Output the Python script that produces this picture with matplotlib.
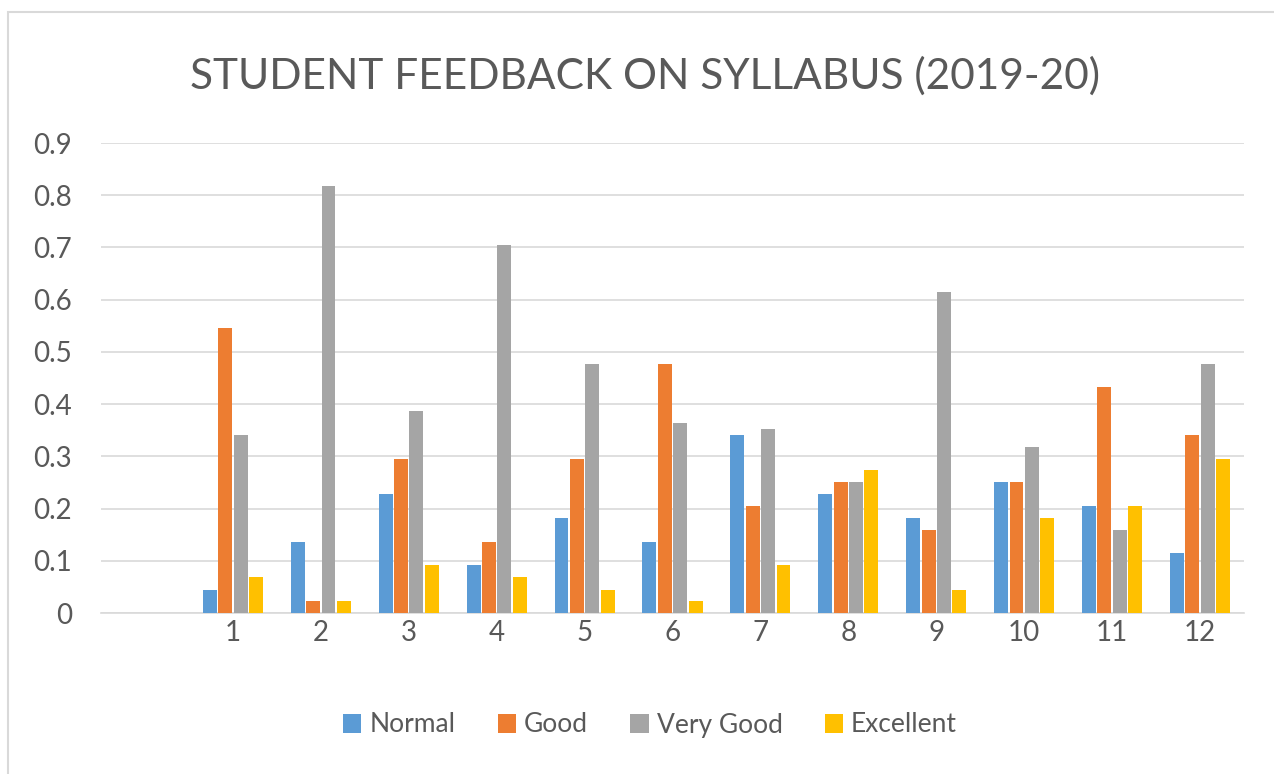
import matplotlib
matplotlib.use("Agg")
import matplotlib.pyplot as plt
import numpy as np
from matplotlib.patches import Rectangle

categories = ["", "1", "2", "3", "4", "5", "6", "7", "8", "9", "10", "11", "12"]
normal    = [None, 0.045, 0.136, 0.227, 0.091, 0.182, 0.136, 0.341, 0.227, 0.182, 0.250, 0.205, 0.114]
good      = [None, 0.545, 0.023, 0.295, 0.136, 0.295, 0.477, 0.205, 0.250, 0.159, 0.250, 0.432, 0.341]
very_good = [None, 0.341, 0.818, 0.386, 0.705, 0.477, 0.364, 0.352, 0.250, 0.614, 0.318, 0.159, 0.477]
excellent = [None, 0.068, 0.023, 0.091, 0.068, 0.045, 0.023, 0.091, 0.273, 0.045, 0.182, 0.205, 0.295]
series_names = ["Normal", "Good", "Very Good", "Excellent"]
colors = ["#5B9BD5", "#ED7D31", "#A5A5A5", "#FFC000"]
yticks = [0, 0.1, 0.2, 0.3, 0.4, 0.5, 0.6, 0.7, 0.8, 0.9]

plt.rcParams['font.family'] = ['Lato', 'DejaVu Sans']
txt = "#595959"

fig = plt.figure(figsize=(12.74, 7.74), dpi=100)
fig.patches.append(Rectangle((8/1274, -0.1), 1.2, (774-12)/774 + 0.1, transform=fig.transFigure,
                             fill=False, edgecolor="#D9D9D9", linewidth=1.5))
ax = fig.add_axes([101/1274, (774-613)/774, 1143/1274, 470/774])

x = np.arange(len(categories))
w = 0.158
step = 0.175
for i, (vals, name, c) in enumerate(zip([normal, good, very_good, excellent], series_names, colors)):
    v = np.array([np.nan if a is None else a for a in vals], dtype=float)
    ax.bar(x + (i - 1.5) * step, v, width=w, color=c, label=name, zorder=3)

ax.set_xlim(-0.5, len(categories) - 0.5)
ax.set_ylim(0, 0.9)
ax.set_yticks(yticks)
ax.set_yticklabels(["0" if t == 0 else f"{t:g}" for t in yticks])
ax.set_xticks(x)
ax.set_xticklabels(categories)
ax.grid(axis="y", color="#D9D9D9", linewidth=1.2, zorder=0)
for s in ["top", "right", "left"]:
    ax.spines[s].set_visible(False)
ax.spines["bottom"].set_color("#D9D9D9")
ax.spines["bottom"].set_linewidth(1.2)
ax.tick_params(axis="both", length=0, labelsize=20, colors=txt)
ax.tick_params(axis="y", pad=21)
ax.tick_params(axis="x", pad=5)

fig.text(645/1274, 1 - 76/774, "STUDENT FEEDBACK ON SYLLABUS (2019-20)", ha="center", va="center",
         fontsize=30.5, color=txt)

leg = fig.legend(loc="center", bbox_to_anchor=(650/1274, 1 - 725/774), ncol=4, frameon=False,
                 fontsize=19, handlelength=0.7, handleheight=0.7, handletextpad=0.3, columnspacing=1.6)
for t in leg.get_texts():
    t.set_color(txt)

fig.savefig("out.png", dpi=100)
